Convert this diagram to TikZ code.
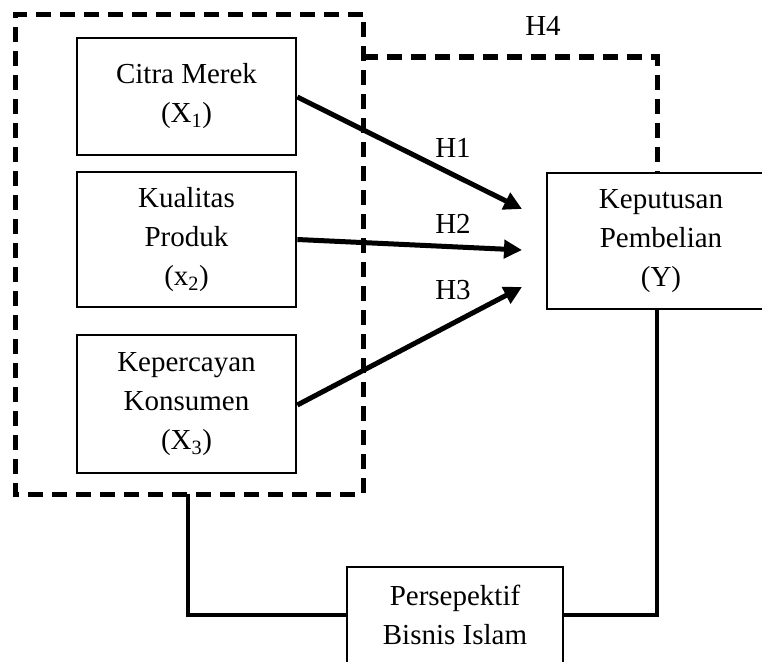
\documentclass[tikz,border=0pt]{standalone}
\usepackage{fontspec}
\setmainfont{Liberation Serif}
\usetikzlibrary{arrows.meta}
\begin{document}
\begin{tikzpicture}[x=1pt,y=-1pt,
  box/.style={draw,line width=2.7pt,rectangle,inner sep=0pt,align=center,
    font=\fontsize{29}{39}\selectfont},
  lab/.style={font=\fontsize{29}{39}\selectfont,inner sep=0pt},
  grp/.style={line width=5pt,dash pattern=on 15pt off 9pt},
  arr/.style={line width=5pt,-{Triangle[length=18pt,width=18pt]}},
  link/.style={line width=4pt}]
\useasboundingbox (0,0) rectangle (762,661);
\clip (0,0) rectangle (762,661);
% boxes
\node[box,minimum width=219pt,minimum height=117pt] (x1) at (186.5,96.5) {Citra Merek\\(X\textsubscript{1})};
\node[box,minimum width=219pt,minimum height=135pt] (x2) at (186.5,239.5) {Kualitas\\Produk\\(x\textsubscript{2})};
\node[box,minimum width=219pt,minimum height=138pt] (x3) at (186.5,404) {Kepercayan\\Konsumen\\(X\textsubscript{3})};
\node[box,minimum width=228pt,minimum height=136pt] (y) at (661,241) {Keputusan\\Pembelian\\(Y)};
\node[box,minimum width=216pt,minimum height=96pt] (p) at (455,615) {Persepektif\\Bisnis Islam};
% dashed group
\coordinate (gtl) at (15,15);
\coordinate (gtr) at (363,15);
\coordinate (gbr) at (363,494);
\coordinate (gbl) at (15,494);
\draw[grp] (gtr) -- (gtl) -- (gbl) -- (gbr) -- cycle;
\coordinate (gb) at (188,494);
\coordinate (h4a) at (363,57);
\draw[grp] (h4a) -| (y.north -| 657,0);
% arrow tips
\coordinate (t1) at (522,209);
\coordinate (t2) at (522,250);
\coordinate (t3) at (522,287);
\draw[arr] (x1.east |- 0,97) -- (t1);
\draw[arr] (x2.east) -- (t2);
\draw[arr] (x3.east |- 0,405) -- (t3);
% labels
\node[lab] (h1) at (453,148) {H1};
\node[lab] (h2) at (453,224) {H2};
\node[lab] (h3) at (453,290) {H3};
\node[lab] (h4) at (543,26) {H4};
% bottom links
\draw[link] (gb) |- (p.west |- 0,615);
\draw[link] (p.east |- 0,615) -| (y.south -| 657,0);
\end{tikzpicture}
\end{document}
